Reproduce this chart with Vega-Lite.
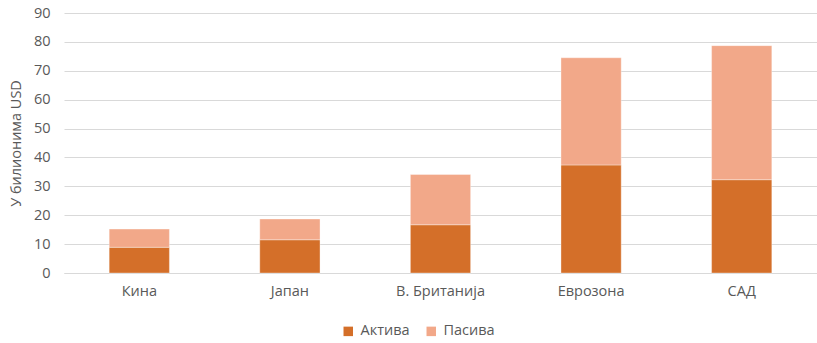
{
  "$schema": "https://vega.github.io/schema/vega-lite/v6.json",
  "autosize": {"type": "none"},
  "width": 753,
  "height": 260,
  "padding": {"left": 64, "top": 13, "right": 0, "bottom": 70},
  "background": "white",
  "config": {
    "view": {"stroke": null},
    "font": "Open Sans",
    "axis": {"labelFont": "Open Sans", "titleFont": "Open Sans", "labelColor": "#595959", "titleColor": "#595959"},
    "legend": {"labelFont": "Open Sans"}
  },
  "data": {
    "values": [
      {"region": "Кина", "type": "Актива", "value": 8.9},
      {"region": "Кина", "type": "Пасива", "value": 6.3},
      {"region": "Јапан", "type": "Актива", "value": 11.5},
      {"region": "Јапан", "type": "Пасива", "value": 7.2},
      {"region": "В. Британија", "type": "Актива", "value": 16.7},
      {"region": "В. Британија", "type": "Пасива", "value": 17.4},
      {"region": "Еврозона", "type": "Актива", "value": 37.4},
      {"region": "Еврозона", "type": "Пасива", "value": 37.1},
      {"region": "САД", "type": "Актива", "value": 32.3},
      {"region": "САД", "type": "Пасива", "value": 46.4}
    ]
  },
  "mark": {"type": "bar", "stroke": "#ffffff", "strokeOpacity": 0.5, "strokeWidth": 0.7},
  "encoding": {
    "x": {
      "field": "region",
      "type": "nominal",
      "sort": null,
      "scale": {"paddingInner": 0.6, "paddingOuter": 0.3},
      "axis": {
        "title": null,
        "labelAngle": 0,
        "labelFontSize": 14.5,
        "labelPadding": 11,
        "ticks": false,
        "domainColor": "#d9d9d9",
        "domainWidth": 1
      }
    },
    "y": {
      "field": "value",
      "type": "quantitative",
      "stack": "zero",
      "scale": {"domain": [0, 90], "nice": false},
      "axis": {
        "title": "У билионима USD",
        "titleFontSize": 14.5,
        "titleFontWeight": "normal",
        "titlePadding": 10,
        "values": [0, 10, 20, 30, 40, 50, 60, 70, 80, 90],
        "labelOverlap": false,
        "labelFontSize": 14.5,
        "labelPadding": 14,
        "ticks": false,
        "domain": false,
        "gridColor": "#d9d9d9",
        "gridWidth": 1
      }
    },
    "color": {
      "field": "type",
      "type": "nominal",
      "scale": {"domain": ["Актива", "Пасива"], "range": ["#d46f29", "#f2a889"]},
      "legend": {
        "title": null,
        "orient": "none",
        "direction": "horizontal",
        "legendX": 277,
        "legendY": 311,
        "symbolType": "square",
        "symbolSize": 90,
        "symbolStrokeWidth": 0,
        "labelFontSize": 14.5,
        "labelColor": "#595959",
        "columnPadding": 14,
        "labelOffset": 5
      }
    },
    "order": {"field": "type", "sort": "ascending"}
  }
}
